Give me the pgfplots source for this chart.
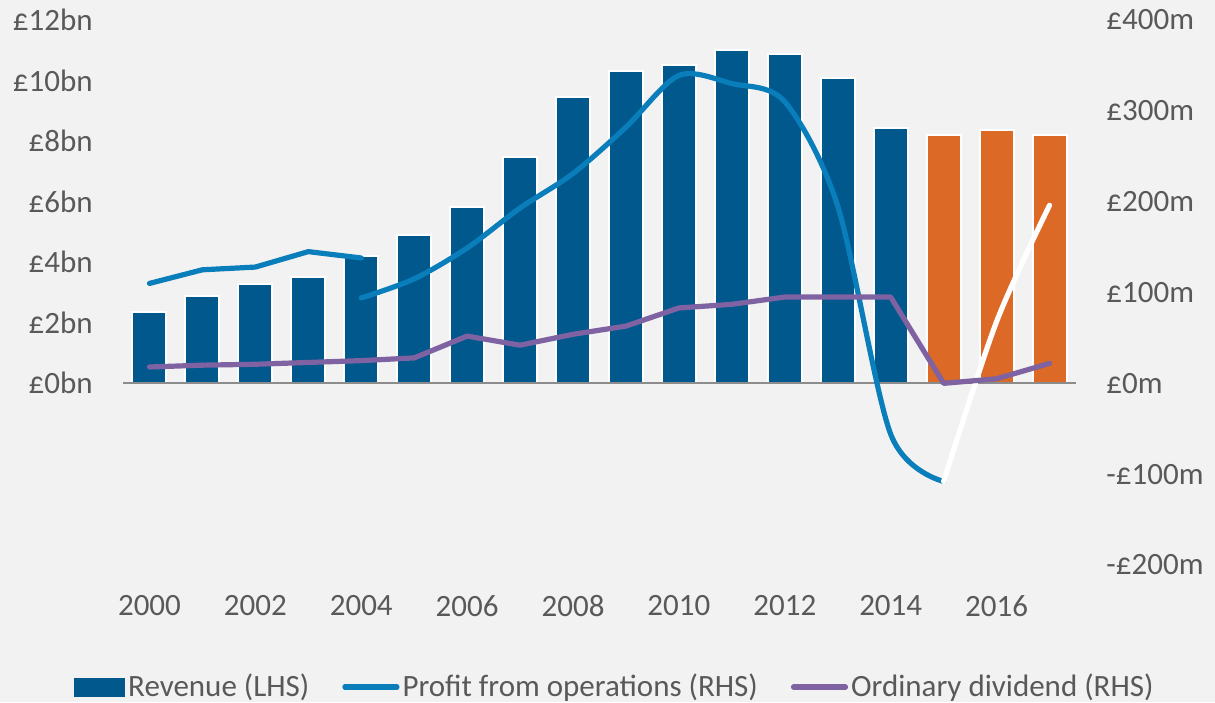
\documentclass[border=0pt]{standalone}
\usepackage{fontspec}
\setmainfont{Carlito}
\usepackage{pgfplots}
\pgfplotsset{compat=1.18}
\definecolor{bgc}{HTML}{F2F2F2}
\definecolor{txt}{HTML}{595959}
\definecolor{revblue}{HTML}{00588C}
\definecolor{revorange}{HTML}{DC6A26}
\definecolor{profblue}{HTML}{0A7DBB}
\definecolor{divpurple}{HTML}{7E62A1}
\definecolor{zeroline}{HTML}{8C8C8C}
\newcommand{\lblfont}{\fontsize{15.5}{18}\selectfont}
\pgfplotsset{
  base/.style={
    scale only axis, width=476.5pt, height=272.5pt,
    xmin=1999.5, xmax=2017.5,
    axis line style={draw=none}, tick style={draw=none},
    ticklabel style={font=\lblfont, text=txt},
    /pgf/number format/assume math mode=true,
    clip=false,
  },
}
\begin{document}
\begin{tikzpicture}
\fill[bgc] (-61.5pt,-68.5pt) rectangle (546pt,282.5pt);
\useasboundingbox (-61.5pt,-68.5pt) rectangle (546pt,282.5pt);
% revenue, left axis
\begin{axis}[base, ymin=-6, ymax=12, ytick={0,2,...,12},
  yticklabels={£0bn,£2bn,£4bn,£6bn,£8bn,£10bn,£12bn},
  yticklabel style={anchor=east, inner sep=0pt, xshift=-15pt},
  xtick={2000,2002,...,2016},
  xticklabel style={anchor=north, inner sep=0pt, yshift=-15pt, /pgf/number format/1000 sep={}},
]
\addplot[ybar, bar width=17pt, bar shift=0pt, fill=revblue, draw=white, line width=1pt]
  coordinates {(2000,2.34) (2001,2.87) (2002,3.27) (2003,3.51) (2004,4.2) (2005,4.89)
  (2006,5.83) (2007,7.46) (2008,9.47) (2009,10.32) (2010,10.52) (2011,11.02)
  (2012,10.87) (2013,10.1) (2014,8.42)};
\addplot[ybar, bar width=17pt, bar shift=0pt, fill=revorange, draw=white, line width=1pt]
  coordinates {(2015,8.2) (2016,8.37) (2017,8.2)};
\end{axis}
% profit and dividend, right axis
\begin{axis}[base, ymin=-200, ymax=400, ytick={-200,-100,...,400},
  yticklabels={-£200m,-£100m,£0m,£100m,£200m,£300m,£400m},
  yticklabel pos=right,
  yticklabel style={anchor=west, inner sep=0pt, xshift=15pt},
  xtick=\empty,
  legend style={at={(0.5,0)}, anchor=center, xshift=8pt, yshift=-61pt,
    draw=none, fill=none, font=\lblfont, text=txt, legend columns=3,
    /tikz/every even column/.append style={column sep=15pt},
    nodes={inner sep=1.5pt}},
  legend cell align=left,
]
\draw[zeroline, line width=1pt] (axis cs:1999.5,0) -- (axis cs:2017.5,0);
\addplot[forget plot, profblue, line width=2.6pt, line cap=round, line join=round]
  coordinates {(2000,110) (2001,125) (2002,128) (2003,145) (2004,138)};
\addplot[forget plot, profblue, line width=2.6pt, line cap=round, smooth]
  coordinates {(2004,94) (2005,115) (2006,149) (2007,193) (2008,231) (2009,282)
  (2010,339) (2011,330) (2012,310) (2013,195) (2014,-56) (2015,-108)};
\addplot[forget plot, white, line width=2.6pt, line cap=round, smooth]
  coordinates {(2015,-108) (2016,68) (2017,196)};
\addplot[forget plot, divpurple, line width=2.6pt, line cap=round, line join=round]
  coordinates {(2000,18) (2001,20) (2002,21) (2003,23) (2004,25) (2005,28) (2006,52)
  (2007,42) (2008,54) (2009,63) (2010,83) (2011,87) (2012,95) (2013,95) (2014,95)
  (2015,0) (2016,5) (2017,22)};
\addlegendimage{legend image code/.code={\fill[revblue] (0pt,-4.5pt) rectangle (25pt,4.5pt);}}
\addlegendentry{Revenue (LHS)}
\addlegendimage{legend image code/.code={\draw[profblue, line width=2.6pt, line cap=round] (0pt,0pt) -- (26pt,0pt);}}
\addlegendentry{Profit from operations (RHS)}
\addlegendimage{legend image code/.code={\draw[divpurple, line width=2.6pt, line cap=round] (0pt,0pt) -- (26pt,0pt);}}
\addlegendentry{Ordinary dividend (RHS)}
\end{axis}
\end{tikzpicture}
\end{document}
